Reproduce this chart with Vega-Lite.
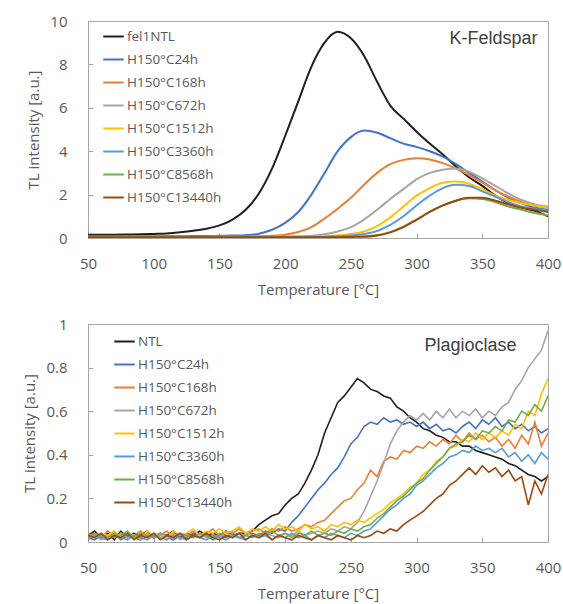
{
  "$schema": "https://vega.github.io/schema/vega-lite/v6.json",
  "background": "white",
  "padding": {"left": 22, "top": 13, "right": 0, "bottom": 5},
  "spacing": 18,
  "resolve": {"scale": {"color": "independent", "x": "independent", "y": "independent"}, "legend": {"color": "independent"}},
  "config": {
    "font": "Open Sans",
    "view": {"stroke": "#a6a6a6", "strokeWidth": 1},
    "axis": {
      "grid": false,
      "domainColor": "#a6a6a6",
      "tickColor": "#a6a6a6",
      "tickSize": -5,
      "labelFlush": false,
      "labelColor": "#595959",
      "labelFontSize": 15,
      "labelFont": "Open Sans",
      "titleColor": "#595959",
      "titleFontSize": 15,
      "titleFont": "Open Sans",
      "titleFontWeight": "normal"
    },
    "axisY": {"labelPadding": 26, "titlePadding": 8},
    "axisX": {"labelPadding": 23, "titlePadding": 11},
    "legend": {
      "title": null,
      "orient": "none",
      "symbolType": "stroke",
      "symbolSize": 420,
      "symbolStrokeWidth": 2,
      "labelFontSize": 13.5,
      "labelFont": "Open Sans",
      "labelColor": "#595959",
      "rowPadding": 5,
      "padding": 0,
      "labelOffset": 2
    }
  },
  "vconcat": [
    {
      "width": 460,
      "height": 217,
      "layer": [
        {
          "data": {"values": [
            {"T":50,"a":0.15,"b":0.08,"c":0.06,"d":0.05,"e":0.05,"f":0.04,"g":0.03,"h":0.03},
            {"T":60,"a":0.15,"b":0.08,"c":0.06,"d":0.05,"e":0.05,"f":0.04,"g":0.03,"h":0.03},
            {"T":70,"a":0.15,"b":0.08,"c":0.06,"d":0.05,"e":0.05,"f":0.04,"g":0.03,"h":0.03},
            {"T":80,"a":0.16,"b":0.08,"c":0.06,"d":0.05,"e":0.05,"f":0.04,"g":0.03,"h":0.03},
            {"T":90,"a":0.17,"b":0.08,"c":0.06,"d":0.05,"e":0.05,"f":0.04,"g":0.03,"h":0.03},
            {"T":100,"a":0.19,"b":0.08,"c":0.06,"d":0.05,"e":0.05,"f":0.04,"g":0.03,"h":0.03},
            {"T":110,"a":0.21,"b":0.08,"c":0.06,"d":0.05,"e":0.05,"f":0.04,"g":0.03,"h":0.03},
            {"T":120,"a":0.26,"b":0.08,"c":0.06,"d":0.05,"e":0.05,"f":0.04,"g":0.03,"h":0.03},
            {"T":130,"a":0.33,"b":0.09,"c":0.06,"d":0.05,"e":0.05,"f":0.04,"g":0.03,"h":0.03},
            {"T":140,"a":0.43,"b":0.09,"c":0.06,"d":0.05,"e":0.05,"f":0.04,"g":0.03,"h":0.03},
            {"T":150,"a":0.58,"b":0.1,"c":0.07,"d":0.05,"e":0.05,"f":0.04,"g":0.03,"h":0.03},
            {"T":160,"a":0.85,"b":0.11,"c":0.07,"d":0.05,"e":0.05,"f":0.04,"g":0.03,"h":0.03},
            {"T":170,"a":1.3,"b":0.13,"c":0.07,"d":0.05,"e":0.05,"f":0.04,"g":0.03,"h":0.03},
            {"T":180,"a":2.05,"b":0.2,"c":0.08,"d":0.05,"e":0.05,"f":0.04,"g":0.03,"h":0.03},
            {"T":190,"a":3.2,"b":0.38,"c":0.1,"d":0.06,"e":0.05,"f":0.04,"g":0.03,"h":0.03},
            {"T":200,"a":4.7,"b":0.7,"c":0.15,"d":0.07,"e":0.05,"f":0.04,"g":0.03,"h":0.03},
            {"T":210,"a":6.3,"b":1.2,"c":0.28,"d":0.08,"e":0.06,"f":0.05,"g":0.03,"h":0.03},
            {"T":220,"a":7.9,"b":2.0,"c":0.5,"d":0.1,"e":0.06,"f":0.05,"g":0.04,"h":0.03},
            {"T":230,"a":9.0,"b":3.0,"c":0.9,"d":0.17,"e":0.08,"f":0.06,"g":0.04,"h":0.04},
            {"T":240,"a":9.5,"b":4.0,"c":1.35,"d":0.3,"e":0.11,"f":0.08,"g":0.05,"h":0.04},
            {"T":250,"a":9.2,"b":4.65,"c":1.85,"d":0.5,"e":0.18,"f":0.11,"g":0.06,"h":0.05},
            {"T":260,"a":8.4,"b":4.95,"c":2.45,"d":0.85,"e":0.3,"f":0.18,"g":0.08,"h":0.06},
            {"T":270,"a":7.2,"b":4.85,"c":3.0,"d":1.3,"e":0.55,"f":0.32,"g":0.13,"h":0.12},
            {"T":280,"a":6.1,"b":4.6,"c":3.4,"d":1.8,"e":0.95,"f":0.6,"g":0.27,"h":0.26},
            {"T":290,"a":5.5,"b":4.35,"c":3.6,"d":2.25,"e":1.45,"f":1.0,"g":0.52,"h":0.5},
            {"T":300,"a":4.9,"b":4.2,"c":3.68,"d":2.7,"e":1.95,"f":1.5,"g":0.85,"h":0.84},
            {"T":310,"a":4.35,"b":4.0,"c":3.62,"d":3.0,"e":2.3,"f":1.95,"g":1.2,"h":1.2},
            {"T":320,"a":3.85,"b":3.75,"c":3.45,"d":3.15,"e":2.55,"f":2.3,"g":1.5,"h":1.5},
            {"T":330,"a":3.3,"b":3.4,"c":3.2,"d":3.2,"e":2.6,"f":2.45,"g":1.72,"h":1.72},
            {"T":340,"a":2.8,"b":3.0,"c":2.9,"d":3.05,"e":2.5,"f":2.4,"g":1.83,"h":1.85},
            {"T":350,"a":2.4,"b":2.6,"c":2.55,"d":2.75,"e":2.25,"f":2.15,"g":1.8,"h":1.85},
            {"T":360,"a":1.95,"b":2.2,"c":2.2,"d":2.4,"e":1.95,"f":1.9,"g":1.65,"h":1.72},
            {"T":370,"a":1.6,"b":1.85,"c":1.9,"d":2.05,"e":1.75,"f":1.65,"g":1.45,"h":1.55},
            {"T":380,"a":1.4,"b":1.6,"c":1.65,"d":1.75,"e":1.6,"f":1.45,"g":1.3,"h":1.4},
            {"T":390,"a":1.25,"b":1.4,"c":1.5,"d":1.55,"e":1.5,"f":1.35,"g":1.15,"h":1.3},
            {"T":400,"a":1.0,"b":1.3,"c":1.4,"d":1.45,"e":1.4,"f":1.25,"g":1.05,"h":1.2}
          ]},
          "transform": [
            {"fold": ["a","b","c","d","e","f","g","h"], "as": ["k","v"]},
            {"lookup": "k", "from": {"data": {"values": [
              {"k":"a","s":"fel1NTL"},{"k":"b","s":"H150°C24h"},{"k":"c","s":"H150°C168h"},{"k":"d","s":"H150°C672h"},
              {"k":"e","s":"H150°C1512h"},{"k":"f","s":"H150°C3360h"},{"k":"g","s":"H150°C8568h"},{"k":"h","s":"H150°C13440h"}
            ]}, "key": "k", "fields": ["s"]}}
          ],
          "mark": {"type": "line", "strokeWidth": 2, "interpolate": "monotone", "clip": true},
          "encoding": {
            "x": {"field": "T", "type": "quantitative", "scale": {"domain": [50,400], "nice": false},
                  "axis": {"values": [50,100,150,200,250,300,350,400], "title": "Temperature [°C]"}},
            "y": {"field": "v", "type": "quantitative", "scale": {"domain": [0,10], "nice": false},
                  "axis": {"values": [0,2,4,6,8,10], "title": "TL intensity [a.u.]"}},
            "color": {"field": "s", "type": "nominal",
              "scale": {"domain": ["fel1NTL","H150°C24h","H150°C168h","H150°C672h","H150°C1512h","H150°C3360h","H150°C8568h","H150°C13440h"],
                        "range": ["#1f1f1f","#4472C4","#ED7D31","#A5A5A5","#FFC000","#5B9BD5","#70AD47","#9E480E"]},
              "legend": {"legendX": 14, "legendY": 4}}
          }
        },
        {
          "data": {"values": [{"label": "K-Feldspar"}]},
          "mark": {"type": "text", "align": "right", "baseline": "middle", "font": "Liberation Sans", "fontSize": 18, "color": "#404040"},
          "encoding": {"x": {"datum": 392}, "y": {"datum": 9.15}, "text": {"field": "label"}}
        }
      ]
    },
    {
      "width": 460,
      "height": 218,
      "layer": [
        {
          "data": {"values": [
            {"T":50,"a":0.03,"b":0.02,"c":0.03,"d":0.02,"e":0.03,"f":0.01,"g":0.02,"h":0.03},
            {"T":55,"a":0.05,"b":0.01,"c":0.04,"d":0.03,"e":0.02,"f":0.03,"g":0.04,"h":0.02},
            {"T":60,"a":0.02,"b":0.03,"c":0.02,"d":0.01,"e":0.04,"f":0.02,"g":0.03,"h":0.04},
            {"T":65,"a":0.04,"b":0.02,"c":0.05,"d":0.03,"e":0.03,"f":0.01,"g":0.02,"h":0.01},
            {"T":70,"a":0.01,"b":0.04,"c":0.03,"d":0.02,"e":0.05,"f":0.03,"g":0.04,"h":0.03},
            {"T":75,"a":0.05,"b":0.01,"c":0.02,"d":0.04,"e":0.02,"f":0.02,"g":0.03,"h":0.02},
            {"T":80,"a":0.02,"b":0.03,"c":0.04,"d":0.02,"e":0.04,"f":0.01,"g":0.05,"h":0.04},
            {"T":85,"a":0.04,"b":0.02,"c":0.03,"d":0.03,"e":0.03,"f":0.03,"g":0.02,"h":0.01},
            {"T":90,"a":0.03,"b":0.01,"c":0.05,"d":0.01,"e":0.02,"f":0.02,"g":0.04,"h":0.03},
            {"T":95,"a":0.05,"b":0.03,"c":0.02,"d":0.04,"e":0.05,"f":0.01,"g":0.03,"h":0.02},
            {"T":100,"a":0.02,"b":0.02,"c":0.04,"d":0.02,"e":0.03,"f":0.03,"g":0.02,"h":0.04},
            {"T":105,"a":0.04,"b":0.04,"c":0.03,"d":0.03,"e":0.04,"f":0.02,"g":0.04,"h":0.01},
            {"T":110,"a":0.03,"b":0.02,"c":0.05,"d":0.02,"e":0.02,"f":0.01,"g":0.03,"h":0.03},
            {"T":115,"a":0.05,"b":0.01,"c":0.02,"d":0.04,"e":0.05,"f":0.03,"g":0.02,"h":0.02},
            {"T":120,"a":0.02,"b":0.03,"c":0.04,"d":0.01,"e":0.03,"f":0.02,"g":0.04,"h":0.04},
            {"T":125,"a":0.04,"b":0.02,"c":0.03,"d":0.03,"e":0.04,"f":0.01,"g":0.03,"h":0.01},
            {"T":130,"a":0.03,"b":0.04,"c":0.05,"d":0.02,"e":0.06,"f":0.03,"g":0.02,"h":0.03},
            {"T":135,"a":0.05,"b":0.02,"c":0.03,"d":0.04,"e":0.03,"f":0.02,"g":0.04,"h":0.02},
            {"T":140,"a":0.03,"b":0.03,"c":0.04,"d":0.02,"e":0.05,"f":0.01,"g":0.03,"h":0.04},
            {"T":145,"a":0.04,"b":0.01,"c":0.06,"d":0.03,"e":0.04,"f":0.03,"g":0.02,"h":0.02},
            {"T":150,"a":0.03,"b":0.03,"c":0.03,"d":0.02,"e":0.06,"f":0.02,"g":0.04,"h":0.01},
            {"T":155,"a":0.05,"b":0.02,"c":0.05,"d":0.04,"e":0.04,"f":0.01,"g":0.03,"h":0.03},
            {"T":160,"a":0.03,"b":0.04,"c":0.04,"d":0.03,"e":0.05,"f":0.03,"g":0.02,"h":0.02},
            {"T":165,"a":0.04,"b":0.02,"c":0.06,"d":0.02,"e":0.07,"f":0.02,"g":0.04,"h":0.04},
            {"T":170,"a":0.04,"b":0.03,"c":0.04,"d":0.04,"e":0.04,"f":0.01,"g":0.03,"h":0.01},
            {"T":175,"a":0.05,"b":0.04,"c":0.05,"d":0.03,"e":0.06,"f":0.03,"g":0.02,"h":0.03},
            {"T":180,"a":0.08,"b":0.03,"c":0.06,"d":0.02,"e":0.05,"f":0.02,"g":0.04,"h":0.02},
            {"T":185,"a":0.1,"b":0.05,"c":0.04,"d":0.04,"e":0.07,"f":0.03,"g":0.03,"h":0.04},
            {"T":190,"a":0.12,"b":0.04,"c":0.06,"d":0.03,"e":0.05,"f":0.01,"g":0.05,"h":0.01},
            {"T":195,"a":0.13,"b":0.06,"c":0.05,"d":0.02,"e":0.08,"f":0.03,"g":0.03,"h":0.03},
            {"T":200,"a":0.17,"b":0.05,"c":0.07,"d":0.04,"e":0.06,"f":0.02,"g":0.04,"h":0.02},
            {"T":205,"a":0.2,"b":0.09,"c":0.05,"d":0.03,"e":0.07,"f":0.04,"g":0.02,"h":0.01},
            {"T":210,"a":0.22,"b":0.12,"c":0.06,"d":0.05,"e":0.05,"f":0.02,"g":0.04,"h":0.03},
            {"T":215,"a":0.27,"b":0.16,"c":0.08,"d":0.03,"e":0.08,"f":0.03,"g":0.03,"h":0.02},
            {"T":220,"a":0.33,"b":0.2,"c":0.07,"d":0.04,"e":0.06,"f":0.01,"g":0.05,"h":0.01},
            {"T":225,"a":0.4,"b":0.24,"c":0.09,"d":0.05,"e":0.07,"f":0.03,"g":0.03,"h":0.03},
            {"T":230,"a":0.5,"b":0.27,"c":0.1,"d":0.04,"e":0.05,"f":0.02,"g":0.04,"h":0.02},
            {"T":235,"a":0.57,"b":0.31,"c":0.13,"d":0.06,"e":0.08,"f":0.04,"g":0.03,"h":0.01},
            {"T":240,"a":0.64,"b":0.34,"c":0.16,"d":0.05,"e":0.07,"f":0.03,"g":0.05,"h":0.03},
            {"T":245,"a":0.67,"b":0.39,"c":0.19,"d":0.07,"e":0.09,"f":0.02,"g":0.04,"h":0.02},
            {"T":250,"a":0.71,"b":0.45,"c":0.2,"d":0.06,"e":0.08,"f":0.04,"g":0.06,"h":0.01},
            {"T":255,"a":0.75,"b":0.48,"c":0.24,"d":0.09,"e":0.1,"f":0.03,"g":0.05,"h":0.03},
            {"T":260,"a":0.73,"b":0.53,"c":0.27,"d":0.14,"e":0.09,"f":0.05,"g":0.07,"h":0.02},
            {"T":265,"a":0.7,"b":0.55,"c":0.33,"d":0.21,"e":0.11,"f":0.06,"g":0.08,"h":0.03},
            {"T":270,"a":0.69,"b":0.54,"c":0.3,"d":0.28,"e":0.13,"f":0.09,"g":0.11,"h":0.05},
            {"T":275,"a":0.67,"b":0.57,"c":0.37,"d":0.36,"e":0.15,"f":0.12,"g":0.13,"h":0.04},
            {"T":280,"a":0.66,"b":0.55,"c":0.39,"d":0.45,"e":0.18,"f":0.15,"g":0.16,"h":0.06},
            {"T":285,"a":0.62,"b":0.56,"c":0.38,"d":0.51,"e":0.2,"f":0.17,"g":0.19,"h":0.05},
            {"T":290,"a":0.6,"b":0.54,"c":0.42,"d":0.55,"e":0.22,"f":0.2,"g":0.21,"h":0.08},
            {"T":295,"a":0.57,"b":0.55,"c":0.41,"d":0.58,"e":0.25,"f":0.22,"g":0.24,"h":0.1},
            {"T":300,"a":0.55,"b":0.53,"c":0.44,"d":0.56,"e":0.27,"f":0.26,"g":0.27,"h":0.12},
            {"T":305,"a":0.52,"b":0.55,"c":0.43,"d":0.59,"e":0.31,"f":0.28,"g":0.29,"h":0.14},
            {"T":310,"a":0.51,"b":0.52,"c":0.46,"d":0.56,"e":0.33,"f":0.31,"g":0.33,"h":0.17},
            {"T":315,"a":0.49,"b":0.54,"c":0.44,"d":0.6,"e":0.37,"f":0.34,"g":0.36,"h":0.2},
            {"T":320,"a":0.48,"b":0.51,"c":0.47,"d":0.57,"e":0.39,"f":0.36,"g":0.39,"h":0.22},
            {"T":325,"a":0.46,"b":0.52,"c":0.45,"d":0.61,"e":0.43,"f":0.39,"g":0.43,"h":0.26},
            {"T":330,"a":0.46,"b":0.5,"c":0.49,"d":0.57,"e":0.44,"f":0.4,"g":0.45,"h":0.28},
            {"T":335,"a":0.44,"b":0.53,"c":0.46,"d":0.6,"e":0.47,"f":0.42,"g":0.46,"h":0.31},
            {"T":340,"a":0.44,"b":0.55,"c":0.5,"d":0.58,"e":0.46,"f":0.41,"g":0.49,"h":0.34},
            {"T":345,"a":0.42,"b":0.52,"c":0.47,"d":0.61,"e":0.5,"f":0.44,"g":0.47,"h":0.31},
            {"T":350,"a":0.41,"b":0.56,"c":0.49,"d":0.57,"e":0.47,"f":0.42,"g":0.51,"h":0.35},
            {"T":355,"a":0.4,"b":0.54,"c":0.46,"d":0.6,"e":0.5,"f":0.43,"g":0.5,"h":0.32},
            {"T":360,"a":0.39,"b":0.57,"c":0.48,"d":0.58,"e":0.48,"f":0.41,"g":0.53,"h":0.34},
            {"T":365,"a":0.38,"b":0.53,"c":0.44,"d":0.62,"e":0.51,"f":0.43,"g":0.51,"h":0.3},
            {"T":370,"a":0.36,"b":0.55,"c":0.47,"d":0.64,"e":0.49,"f":0.39,"g":0.56,"h":0.33},
            {"T":375,"a":0.35,"b":0.52,"c":0.43,"d":0.7,"e":0.54,"f":0.41,"g":0.55,"h":0.28},
            {"T":380,"a":0.33,"b":0.54,"c":0.49,"d":0.74,"e":0.52,"f":0.37,"g":0.6,"h":0.3},
            {"T":385,"a":0.31,"b":0.51,"c":0.45,"d":0.8,"e":0.6,"f":0.4,"g":0.58,"h":0.17},
            {"T":390,"a":0.3,"b":0.53,"c":0.55,"d":0.84,"e":0.58,"f":0.36,"g":0.63,"h":0.28},
            {"T":395,"a":0.28,"b":0.5,"c":0.44,"d":0.88,"e":0.68,"f":0.41,"g":0.6,"h":0.22},
            {"T":400,"a":0.3,"b":0.52,"c":0.5,"d":0.97,"e":0.75,"f":0.38,"g":0.67,"h":0.31}
          ]},
          "transform": [
            {"fold": ["a","b","c","d","e","f","g","h"], "as": ["k","v"]},
            {"lookup": "k", "from": {"data": {"values": [
              {"k":"a","s":"NTL"},{"k":"b","s":"H150°C24h"},{"k":"c","s":"H150°C168h"},{"k":"d","s":"H150°C672h"},
              {"k":"e","s":"H150°C1512h"},{"k":"f","s":"H150°C3360h"},{"k":"g","s":"H150°C8568h"},{"k":"h","s":"H150°C13440h"}
            ]}, "key": "k", "fields": ["s"]}}
          ],
          "mark": {"type": "line", "strokeWidth": 1.6, "clip": true},
          "encoding": {
            "x": {"field": "T", "type": "quantitative", "scale": {"domain": [50,400], "nice": false},
                  "axis": {"values": [50,100,150,200,250,300,350,400], "title": "Temperature [°C]"}},
            "y": {"field": "v", "type": "quantitative", "scale": {"domain": [0,1], "nice": false},
                  "axis": {"values": [0,0.2,0.4,0.6,0.8,1], "format": "~g", "title": "TL intensity [a.u.]"}},
            "color": {"field": "s", "type": "nominal",
              "scale": {"domain": ["NTL","H150°C24h","H150°C168h","H150°C672h","H150°C1512h","H150°C3360h","H150°C8568h","H150°C13440h"],
                        "range": ["#1f1f1f","#4472C4","#ED7D31","#A5A5A5","#FFC000","#5B9BD5","#70AD47","#9E480E"]},
              "legend": {"legendX": 25, "legendY": 6}}
          }
        },
        {
          "data": {"values": [{"label": "Plagioclase"}]},
          "mark": {"type": "text", "align": "right", "baseline": "middle", "font": "Liberation Sans", "fontSize": 18, "color": "#404040"},
          "encoding": {"x": {"datum": 376}, "y": {"datum": 0.9}, "text": {"field": "label"}}
        }
      ]
    }
  ]
}
